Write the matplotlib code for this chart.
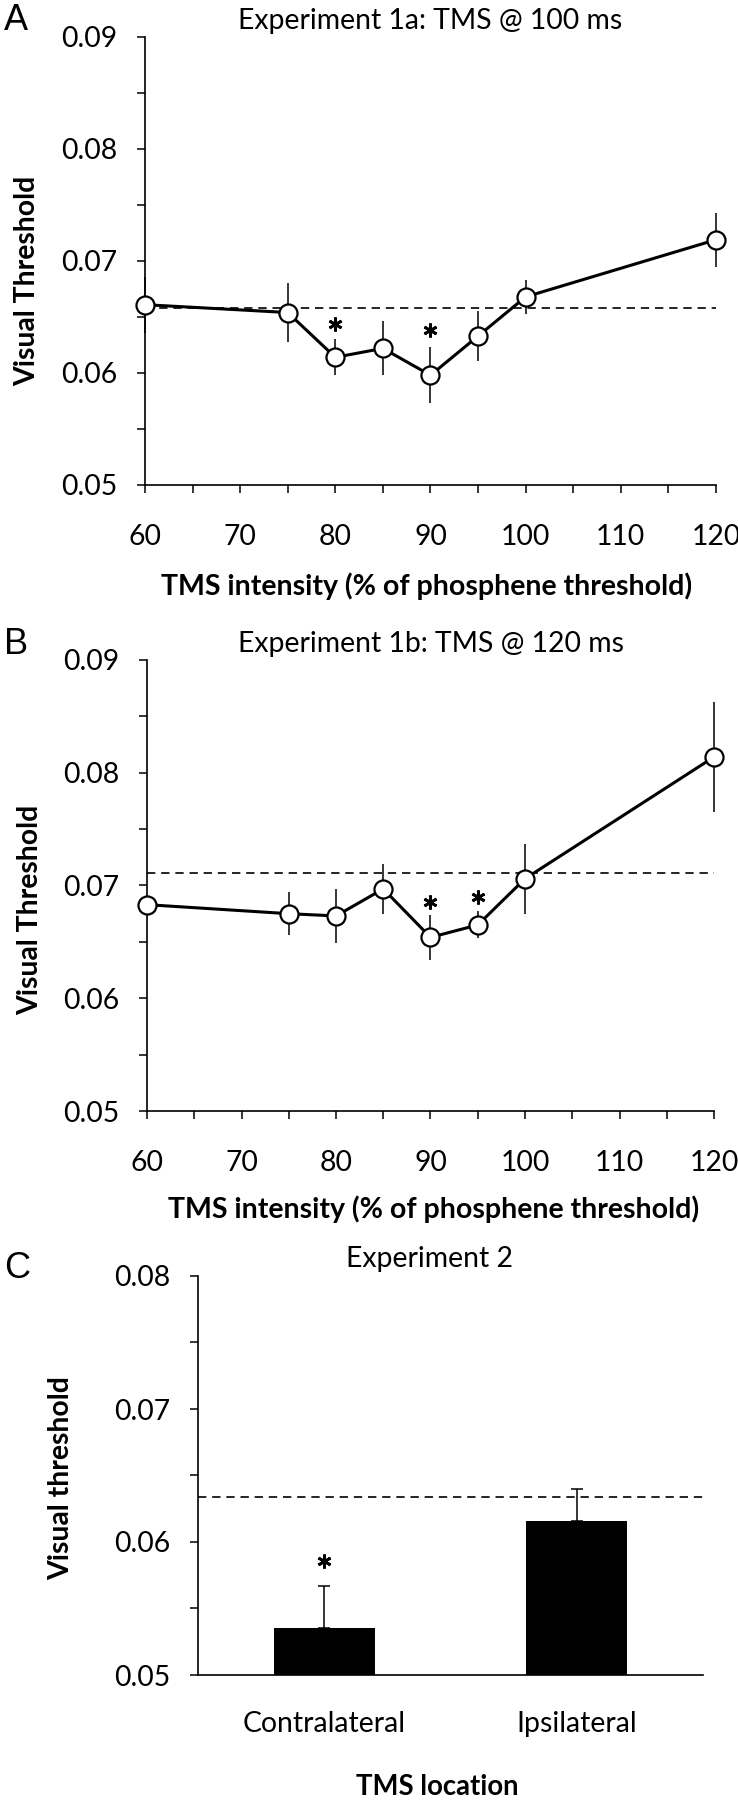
import matplotlib
matplotlib.use("Agg")
import matplotlib.pyplot as plt
from matplotlib.ticker import MultipleLocator

# --- data ---
intensity = [60, 75, 80, 85, 90, 95, 100, 120]

thr_1a = [0.0661, 0.0654, 0.0614, 0.0622, 0.0598, 0.0633, 0.0668, 0.0719]
err_1a = [0.0025, 0.0026, 0.0016, 0.0024, 0.0025, 0.0022, 0.0015, 0.0024]
base_1a = 0.0658
sig_1a = [80, 90]
sig_y_1a = [0.0644, 0.0638]

thr_1b = [0.0683, 0.0675, 0.0673, 0.0697, 0.0654, 0.0665, 0.0706, 0.0814]
err_1b = [0.0008, 0.0019, 0.0024, 0.0022, 0.0020, 0.0012, 0.0031, 0.0049]
base_1b = 0.0711
sig_1b = [90, 95]
sig_y_1b = [0.0685, 0.0690]

locations = ["Contralateral", "Ipsilateral"]
thr_2 = [0.0535, 0.0616]
err_2 = [0.0032, 0.0024]
base_2 = 0.0634
sig_y_2 = 0.0586

FONT = "Lato"
W, H = 738, 1800

plt.rcParams["font.family"] = [FONT, "DejaVu Sans"]

fig = plt.figure(figsize=(W / 100, H / 100), dpi=100)
renderer = fig.canvas.get_renderer()


def fitted_size(s, target_px, weight="normal", vertical=False):
    # font size that makes string s span target_px pixels
    t = fig.text(0, 0, s, fontsize=20, fontweight=weight,
                 rotation=90 if vertical else 0)
    for _ in range(3):
        bb = t.get_window_extent(renderer)
        span = bb.height if vertical else bb.width
        t.set_fontsize(t.get_fontsize() * target_px / span)
    fs = t.get_fontsize()
    t.remove()
    return fs


TICK_FS = fitted_size("0.09", 56)
TITLE_FS = fitted_size("Experiment 1a: TMS @ 100 ms", 385)
XLAB_FS = fitted_size("TMS intensity (% of phosphene threshold)", 531, "bold")
YLAB_FS = fitted_size("Visual Threshold", 210, "bold", vertical=True)
CAT_FS = fitted_size("Contralateral", 163)
LOC_FS = fitted_size("TMS location", 163, "bold")


def px_axes(left, top, right, bottom):
    # axes from pixel box (top-left origin)
    return fig.add_axes([left / W, 1 - bottom / H, (right - left) / W, (bottom - top) / H])


def style(ax, xtick_pad=22, ytick_pad=14):
    for s in ["top", "right"]:
        ax.spines[s].set_visible(False)
    for s in ["left", "bottom"]:
        ax.spines[s].set_linewidth(1.2)
    ax.tick_params(which="both", direction="out", length=6, width=1.1,
                   labelsize=TICK_FS)
    ax.tick_params(axis="x", pad=xtick_pad)
    ax.tick_params(axis="y", pad=ytick_pad)


def star(ax, x, y):
    ax.plot([x], [y], marker=(6, 2, 0), ms=10, mew=2.0, color="black",
            linestyle="none", zorder=4)


def line_panel(ax, thr, err, base, sig_x, sig_y, title):
    ax.plot([60, 120], [base, base], ls=(0, (5, 3.5)), color="black", lw=1.2, zorder=1)
    ax.errorbar(intensity, thr, yerr=err, fmt="none", ecolor="black",
                elinewidth=1.1, capsize=0, zorder=2, clip_on=False)
    ax.plot(intensity, thr, color="black", lw=2.2, marker="o", ms=13,
            mfc="white", mec="black", mew=1.6, zorder=3, clip_on=False)
    for x, y in zip(sig_x, sig_y):
        star(ax, x, y)
    ax.set_xlim(60, 120)
    ax.set_ylim(0.05, 0.09)
    ax.xaxis.set_major_locator(MultipleLocator(10))
    ax.xaxis.set_minor_locator(MultipleLocator(5))
    ax.yaxis.set_minor_locator(MultipleLocator(0.005))
    ax.set_yticks([0.05, 0.06, 0.07, 0.08, 0.09])
    ax.set_yticklabels(["0.05", "0.06", "0.07", "0.08", "0.09"])
    style(ax)
    ax.text(0.5, 1.017, title, transform=ax.transAxes, ha="center",
            va="baseline", fontsize=TITLE_FS)


# Panel A
axA = px_axes(145, 37, 716, 485)
line_panel(axA, thr_1a, err_1a, base_1a, sig_1a, sig_y_1a,
           "Experiment 1a: TMS @ 100 ms")

# Panel B
axB = px_axes(147, 660, 714, 1111)
line_panel(axB, thr_1b, err_1b, base_1b, sig_1b, sig_y_1b,
           "Experiment 1b: TMS @ 120 ms")

# Panel C
axC = px_axes(198, 1276, 703, 1675)
xc = list(range(len(locations)))
axC.axhline(base_2, ls=(0, (5, 3.5)), color="black", lw=1.2, zorder=1)
axC.bar(xc, thr_2, width=0.4, color="black", zorder=2)
axC.errorbar(xc, thr_2, yerr=[[0, 0], err_2], fmt="none", ecolor="black",
             elinewidth=1.1, capsize=4, capthick=1.1, zorder=3)
star(axC, xc[0], sig_y_2)
axC.set_xlim(-0.5, 1.5)
axC.set_ylim(0.05, 0.08)
axC.set_xticks(xc)
axC.set_xticklabels(locations)
axC.set_yticks([0.05, 0.06, 0.07, 0.08])
axC.set_yticklabels(["0.05", "0.06", "0.07", "0.08"])
axC.yaxis.set_minor_locator(MultipleLocator(0.005))
style(axC, xtick_pad=26)
axC.tick_params(axis="x", length=0, labelsize=CAT_FS)

# axis titles / labels placed in figure pixels
xlab = "TMS intensity (% of phosphene threshold)"
fig.text(427 / W, 1 - 586 / H, xlab, ha="center", va="center",
         fontsize=XLAB_FS, fontweight="bold")
fig.text(434 / W, 1 - 1209 / H, xlab, ha="center", va="center",
         fontsize=XLAB_FS, fontweight="bold")
fig.text(27 / W, 1 - 281 / H, "Visual Threshold", rotation=90, ha="center",
         va="center", fontsize=YLAB_FS, fontweight="bold")
fig.text(30 / W, 1 - 910 / H, "Visual Threshold", rotation=90, ha="center",
         va="center", fontsize=YLAB_FS, fontweight="bold")
fig.text(61 / W, 1 - 1478 / H, "Visual threshold", rotation=90, ha="center",
         va="center", fontsize=YLAB_FS, fontweight="bold")
fig.text(430 / W, 1 - 1267 / H, "Experiment 2", ha="center", va="baseline",
         fontsize=TITLE_FS)
fig.text(437 / W, 1 - 1787 / H, "TMS location", ha="center", va="center",
         fontsize=LOC_FS, fontweight="bold")

# panel letters
for letter, base_px in [("A", 30), ("B", 654), ("C", 1278)]:
    fig.text(4 / W, 1 - base_px / H, letter, ha="left", va="baseline",
             fontsize=26, family="Liberation Sans")

fig.savefig("out.png", dpi=100)
